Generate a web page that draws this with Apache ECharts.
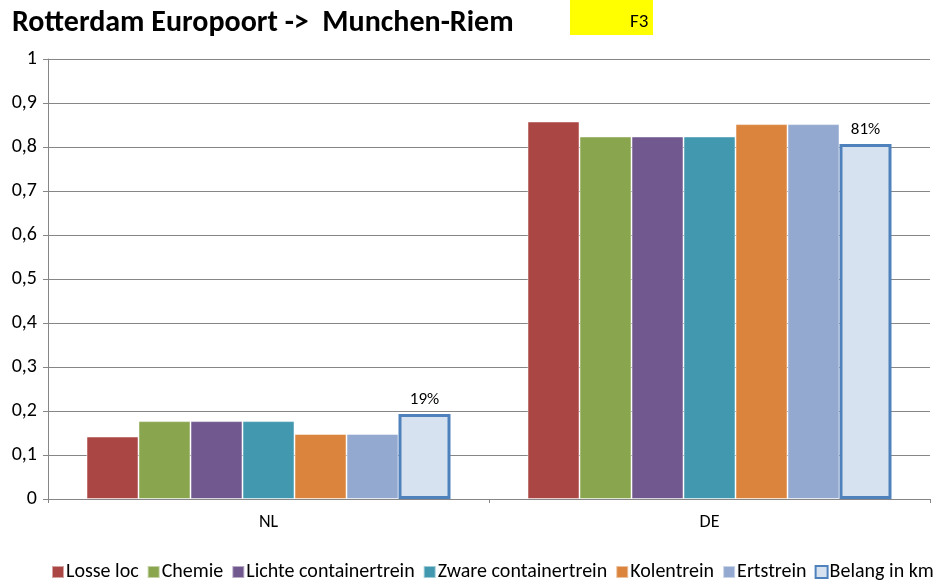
<!DOCTYPE html>
<html>
<head>
<meta charset="utf-8">
<script src="https://cdn.jsdelivr.net/npm/echarts@6/dist/echarts.min.js"></script>
<style>
  html, body { margin: 0; padding: 0; background: #fff; }
  #chart_1 { width: 944px; height: 587px; }
</style>
</head>
<body>
<div id="chart_1"></div>
<script>
// landen
var categories = ['NL', 'DE'];
// treintypes
var seriesNames = ['Losse loc', 'Chemie', 'Lichte containertrein', 'Zware containertrein', 'Kolentrein', 'Ertstrein', 'Belang in km'];
var losseLoc = [0.142, 0.858];
var chemie = [0.177, 0.824];
var lichteContainer = [0.177, 0.824];
var zwareContainer = [0.177, 0.824];
var kolentrein = [0.148, 0.852];
var ertstrein = [0.148, 0.852];
var belangInKm = [0.193, 0.807];
var yTicks = ['0', '0,1', '0,2', '0,3', '0,4', '0,5', '0,6', '0,7', '0,8', '0,9', '1'];

var colors = ['#AA4643', '#89A54E', '#71588F', '#4198AF', '#DB843D', '#93A9CF', '#D6E2EF'];
var allData = [losseLoc, chemie, lichteContainer, zwareContainer, kolentrein, ertstrein, belangInKm];

var font = 'Calibri, Carlito, "Liberation Sans", Arial, sans-serif';

var series = [];
for (var i = 0; i < seriesNames.length; i++) {
    var item = {
        name: seriesNames[i],
        type: 'bar',
        data: allData[i],
        barWidth: 52,
        barGap: '0%',
        itemStyle: {color: colors[i], borderColor: 'rgba(255,255,255,0.5)', borderWidth: 1}
    };
    if (i === seriesNames.length - 1) {
        item.itemStyle = {color: colors[i], borderColor: '#4F81BD', borderWidth: 3};
        item.label = {
            show: true,
            position: 'top',
            distance: 6,
            color: '#000',
            fontSize: 17,
            fontFamily: font,
            formatter: function (p) {
                return Math.round(p.value * 100) + '%';
            }
        };
    }
    series.push(item);
}

var myChart = echarts.init(document.getElementById('chart_1'));
var option = {
    animation: false,
    title: {
        text: 'Rotterdam Europoort ->  Munchen-Riem',
        left: 7,
        top: 3,
        textStyle: {fontSize: 30, fontWeight: 'bold', color: '#000', fontFamily: font}
    },
    graphic: [
        {type: 'rect', left: 570, top: 0, shape: {width: 83, height: 35}, style: {fill: '#FFFF00'}},
        {type: 'text', left: 630, top: 13, style: {text: 'F3', fontSize: 19, fill: '#000', fontFamily: font}}
    ],
    legend: {
        data: seriesNames.map(function (n, i) {
            return i === seriesNames.length - 1
                ? {name: n, itemStyle: {color: colors[i], borderColor: '#4F81BD', borderWidth: 2}}
                : {name: n};
        }),
        bottom: 0,
        left: 46,
        itemWidth: 12,
        itemHeight: 12,
        itemGap: 8,
        icon: 'rect',
        textStyle: {fontSize: 20, color: '#000', fontFamily: font, padding: [0, 0, 0, -3]}
    },
    grid: {left: 48, right: 14, top: 59, bottom: 88, containLabel: false},
    xAxis: [{
        type: 'category',
        data: categories,
        axisLine: {lineStyle: {color: '#868686', width: 1}},
        axisTick: {show: true, alignWithLabel: false, length: 4, lineStyle: {color: '#868686'}},
        axisLabel: {color: '#000', fontSize: 18, fontFamily: font, margin: 14}
    }],
    yAxis: [{
        type: 'value',
        min: 0,
        max: 1,
        interval: 0.1,
        axisLine: {show: true, lineStyle: {color: '#868686'}},
        axisTick: {show: true, length: 5, lineStyle: {color: '#868686'}},
        splitLine: {lineStyle: {color: '#868686', width: 1}},
        axisLabel: {
            color: '#000', fontSize: 20, fontFamily: font, margin: 11,
            formatter: function (v) {
                return yTicks[Math.round(v * 10)];
            }
        }
    }],
    series: series
};

myChart.setOption(option);
</script>
</body>
</html>
